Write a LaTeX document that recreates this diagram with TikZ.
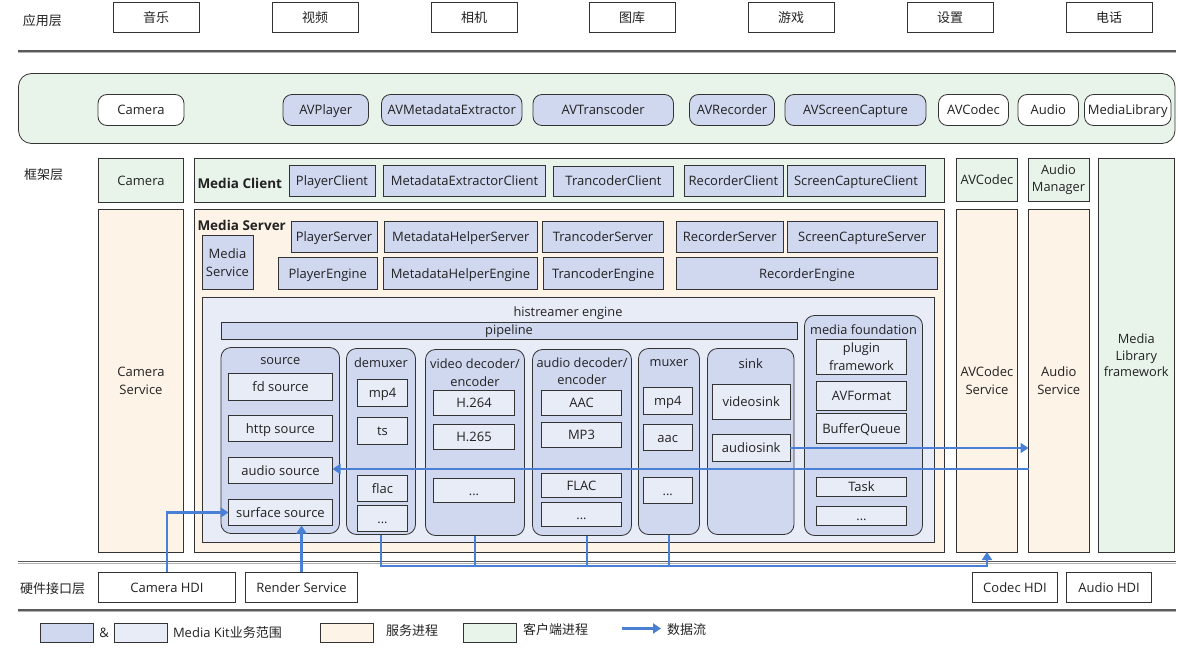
\documentclass[tikz,border=0pt]{standalone}
\usepackage{fontspec}
\setmainfont{Open Sans}
\newfontfamily\cjk{Noto Sans CJK SC}
\usetikzlibrary{arrows.meta}

\definecolor{mkdark}{HTML}{D0D8F0}
\definecolor{mklight}{HTML}{E8ECF7}
\definecolor{svc}{HTML}{FDF3E7}
\definecolor{cli}{HTML}{E8F3EA}
\definecolor{flowc}{HTML}{4A7FD6}
\definecolor{edge}{HTML}{333333}
\definecolor{sepc}{HTML}{5A5A5A}
\definecolor{txt}{HTML}{222222}

\newcommand\fn{\fontsize{13}{18.5}\selectfont}
\newcommand\fs{\fontsize{12.8}{18}\selectfont}
\newcommand\fc{\cjk\fontsize{13}{15}\selectfont}

% box from corner (x1,y1) to (x2,y2): name, x1, y1, x2, y2, style, text
\newcommand\bx[7]{\node[#6, minimum width={(#4)-(#2)}, minimum height={(#5)-(#3)}] (#1) at ({((#2)+(#4))/2},{((#3)+(#5))/2}) {#7};}

\tikzset{
  every node/.style={inner sep=0pt, outer sep=0pt, text=txt, font=\fn},
  tx/.style={text height=1.2em, text depth=0.22em},
  ml/.style={text height={}, text depth={}, align=center},
  plain/.style={draw=edge, line width=0.8pt, fill=white, tx},
  appbox/.style={draw=edge, line width=0.8pt, fill=white, font=\fc, text height=1.2em, text depth=0.1em},
  pill/.style={draw=edge, line width=0.8pt, rounded corners=9pt, fill=white, tx},
  mkpill/.style={pill, fill=mkdark},
  mk/.style={draw=edge, line width=0.8pt, fill=mkdark, tx},
  lt/.style={draw=edge, line width=0.8pt, fill=mklight, tx},
  sv/.style={draw=edge, line width=0.8pt, fill=svc, tx},
  cl/.style={draw=edge, line width=0.8pt, fill=cli, tx},
  cont/.style={draw=edge, line width=0.8pt, fill=mkdark, rounded corners=10pt},
  small/.style={font=\fontsize{12.8}{16.8}\selectfont, ml},
  rowlab/.style={font=\fc, anchor=west},
  flow/.style={draw=flowc, line width=2.4pt, -{Triangle[length=8pt,width=10pt]}},
  flowline/.style={draw=flowc, line width=2.4pt},
  sepdark/.style={draw=sepc, line width=1.6pt},
  seplight/.style={draw=black!30, line width=1pt},
}

\begin{document}
\begin{tikzpicture}[x=1pt, y=-1pt]
\useasboundingbox (0,0) rectangle (1178,669);

% ---------- row titles ----------
\node[rowlab] (lApp) at (23,20.5) {应用层};
\node[rowlab] (lIf) at (19,111.5) {接口层};
\node[rowlab] (lFw) at (24,175) {框架层};
\node[rowlab] (lHw) at (20,589) {硬件接口层};

% ---------- application layer ----------
\bx{a1}{113}{2}{199}{32}{appbox}{音乐}
\bx{a2}{272}{2}{358}{32}{appbox}{视频}
\bx{a3}{431}{2}{517}{32}{appbox}{相机}
\bx{a4}{589}{2}{675}{32}{appbox}{图库}
\bx{a5}{748}{2}{834}{32}{appbox}{游戏}
\bx{a6}{907}{2}{993}{32}{appbox}{设置}
\bx{a7}{1066}{2}{1152}{32}{appbox}{电话}

% layer separators
\draw[seplight] (18,52.5) -- (1176,52.5);
\draw[sepdark] (18,51) -- (1176,51);
\draw[seplight] (18,563) -- (1176,563);
\draw[sepdark] (18,561.5) -- (1176,561.5);
\draw[seplight] (18,611.5) -- (1176,611.5);
\draw[sepdark] (18,610) -- (1176,610);

% ---------- interface layer ----------
\draw[draw=edge, line width=0.8pt, fill=cli, rounded corners=13pt] (18.5,73.5) rectangle (1175,143.5);
\bx{iCam}{98}{94.5}{184}{125.5}{pill}{Camera}
\bx{iPlay}{283}{94.5}{368.5}{125.5}{mkpill}{AVPlayer}
\bx{iMeta}{381.5}{94.5}{522}{125.5}{mkpill}{AVMetadataExtractor}
\bx{iTrans}{533}{94.5}{673.5}{125.5}{mkpill}{AVTranscoder}
\bx{iRec}{689.5}{94.5}{774.5}{125.5}{mkpill}{AVRecorder}
\bx{iScr}{785}{94.5}{926}{125.5}{mkpill}{AVScreenCapture}
\bx{iCodec}{938.5}{94.5}{1008.5}{125.5}{pill}{AVCodec}
\bx{iAudio}{1018}{94.5}{1078.5}{125.5}{pill}{Audio}
\bx{iLib}{1084.5}{94.5}{1171}{125.5}{pill}{MediaLibrary}

% ---------- framework layer: client side ----------
\bx{fCam}{98.5}{158.5}{183.5}{202}{cl}{Camera}
\bx{mcli}{194.5}{158.5}{944}{202}{cl}{}
\node[anchor=west, font=\fontsize{13.5}{16}\selectfont\bfseries] (mcliT) at (197.5,183) {Media Client};
\bx{cPlay}{289}{165}{375}{196}{mk}{PlayerClient}
\bx{cMeta}{383.5}{165}{545.5}{196}{mk}{MetadataExtractorClient}
\bx{cTrans}{553.5}{166}{673.5}{196}{mk}{TrancoderClient}
\bx{cRec}{684}{165}{783}{196}{mk}{RecorderClient}
\bx{cScr}{787}{165}{925}{196}{mk}{ScreenCaptureClient}
\bx{fCodec}{956.5}{158.5}{1017.5}{201.5}{cl}{AVCodec}
\bx{fAMgr}{1028}{158.5}{1089}{201.5}{cl,small}{Audio\\Manager}

% ---------- framework layer: service side ----------
\bx{camSvc}{98.5}{209.5}{183.5}{552}{sv,ml}{Camera\\Service}
\bx{msrv}{194.5}{209.5}{944}{552}{sv}{}
\node[anchor=west, font=\fontsize{13.5}{16}\selectfont\bfseries] (msrvT) at (197.5,225) {Media Server};
\bx{mService}{202}{235.5}{253}{289.5}{mk,ml}{Media\\Service}
\bx{sPlay}{291}{221}{377}{252.5}{mk}{PlayerServer}
\bx{sMeta}{384}{221}{537.5}{252.5}{mk}{MetadataHelperServer}
\bx{sTrans}{542.5}{221}{663.5}{252.5}{mk}{TrancoderServer}
\bx{sRec}{676.5}{221}{783}{252.5}{mk}{RecorderServer}
\bx{sScr}{787}{221}{937.5}{252.5}{mk}{ScreenCaptureServer}
\bx{ePlay}{278.5}{257.5}{377}{289.5}{mk}{PlayerEngine}
\bx{eMeta}{383.5}{257.5}{537.5}{289.5}{mk}{MetadataHelperEngine}
\bx{eTrans}{543}{257.5}{663.5}{289.5}{mk}{TrancoderEngine}
\bx{eRec}{676.5}{257.5}{937.5}{289.5}{mk}{RecorderEngine}

\bx{avSvc}{956.5}{209.5}{1017.5}{552}{sv,ml}{AVCodec\\Service}
\bx{auSvc}{1028.5}{209.5}{1089}{552}{sv,ml}{Audio\\Service}
\bx{libFw}{1098.5}{158.5}{1174}{552}{cl,small}{Media\\Library\\framework}

% ---------- histreamer engine ----------
\bx{hist}{202.5}{297.5}{934.5}{542.5}{lt}{}
\node[font=\fs] (histT) at (568,313) {histreamer engine};
\bx{pipe}{221}{322.5}{797}{339.5}{mk,font=\fs,text height=0.95em,text depth=0.22em}{pipeline}

% source
\bx{src}{221}{347.5}{339.5}{533.5}{cont}{}
\node[font=\fs] (srcT) at (280.3,361.5) {source};
\bx{fdSrc}{228.5}{373.5}{332.5}{400.5}{lt}{fd source}
\bx{httpSrc}{228.5}{415.5}{332.5}{441.5}{lt}{http source}
\bx{audSrc}{228.5}{457.5}{332.5}{483.5}{lt}{audio source}
\bx{surfSrc}{228.5}{499.5}{332.5}{525.5}{lt}{surface source}

% demuxer
\bx{dmx}{346.5}{348.5}{415.5}{534.5}{cont}{}
\node[font=\fs] (dmxT) at (380.9,362.5) {demuxer};
\bx{dMp4}{357.5}{379.5}{407.5}{406.5}{lt}{mp4}
\bx{dTs}{357.5}{417.5}{407.5}{444.5}{lt}{ts}
\bx{dFlac}{357.5}{475.5}{407.5}{501}{lt}{flac}
\bx{dMore}{357.5}{505.5}{407.5}{531.5}{lt,font=\fs}{...}

% video decoder / encoder
\bx{vdec}{425.5}{349.5}{524.5}{535.5}{cont}{}
\node[font=\fs, align=center] (vdecT) at (475,372.5) {video decoder/\\encoder};
\bx{vH264}{433.5}{390.5}{514.5}{415.5}{lt}{H.264}
\bx{vH265}{433.5}{424.5}{514.5}{449.5}{lt}{H.265}
\bx{vMore}{433.5}{478.5}{514.5}{502.5}{lt,font=\fs}{...}

% audio decoder / encoder
\bx{adec}{532.5}{349.5}{631.5}{535.5}{cont}{}
\node[font=\fontsize{12.8}{16.8}\selectfont, align=center] (adecT) at (582,371.5) {audio decoder/\\encoder};
\bx{aAAC}{541.5}{390.5}{621.5}{415.5}{lt}{AAC}
\bx{aMP3}{541.5}{422.5}{621.5}{447.5}{lt}{MP3}
\bx{aFLAC}{541.5}{473.5}{621.5}{497.5}{lt}{FLAC}
\bx{aMore}{541.5}{502.5}{621.5}{526.5}{lt,font=\fs}{...}

% muxer
\bx{mux}{638.5}{348.5}{699.5}{534.5}{cont}{}
\node[font=\fs] (muxT) at (669,363) {muxer};
\bx{mMp4}{643.5}{387.5}{692}{414.5}{lt}{mp4}
\bx{mAac}{643.5}{424.5}{692}{450.5}{lt}{aac}
\bx{mMore}{643.5}{477.5}{692}{503.5}{lt,font=\fs}{...}

% sink
\bx{sink}{707.5}{348.5}{794}{534.5}{cont}{}
\node (sinkT) at (750.8,364) {sink};
\bx{vSink}{712.5}{384.5}{790}{419.5}{lt}{videosink}
\bx{aSink}{712.5}{434.5}{790}{461.5}{lt}{audiosink}

% media foundation
\bx{mf}{804.5}{315.5}{922.5}{535.5}{cont}{}
\node[font=\fs] (mfT) at (863.5,329.5) {media foundation};
\bx{mfPlug}{816.5}{339.5}{906.5}{374.5}{lt,ml,font=\fs}{plugin\\framework}
\bx{mfFmt}{816.5}{381}{906.5}{410}{lt}{AVFormat}
\bx{mfBq}{816.5}{413.5}{906.5}{443.5}{lt}{BufferQueue}
\bx{mfTask}{816.5}{477.5}{906.5}{496.5}{lt,text height=1.05em}{Task}
\bx{mfMore}{816.5}{506.5}{906.5}{525.5}{lt,font=\fs}{...}

% ---------- hardware interface layer ----------
\bx{camHdi}{98.5}{572}{235.5}{602.5}{plain}{Camera HDI}
\bx{rndSvc}{245.5}{572}{357.5}{602.5}{plain}{Render Service}
\bx{codecHdi}{972.5}{572}{1057.5}{602.5}{plain}{Codec HDI}
\bx{audioHdi}{1066.5}{572}{1151.5}{602.5}{plain}{Audio HDI}

% ---------- data flow ----------
\coordinate (busY) at (0,566);
\draw[flow] (aSink.east) -- (aSink.east -| auSvc.west);
\draw[flow] (auSvc.west |- 0,469) -- (audSrc.east |- 0,469);
\draw[flow] (camHdi.north) |- (surfSrc.west);
\draw[flow] (rndSvc.north) -- (rndSvc.north |- surfSrc.south);
\draw[flowline] (vdec.south) -- (vdec.south |- busY);
\draw[flowline] ([xshift=5pt]adec.south) -- ([xshift=5pt]adec.south |- busY);
\draw[flowline] (mux.south) -- (mux.south |- busY);
\draw[flow, line join=miter] (dmx.south) -- (dmx.south |- busY) -| (avSvc.south);

% ---------- legend ----------
\bx{lgDark}{40.5}{623.5}{93.5}{642.5}{mk}{}
\node (lgAmp) at (104,633) {\&};
\bx{lgLight}{114.5}{623.5}{167}{642.5}{lt}{}
\node[anchor=west] (lgMk) at (173,633) {Media Kit{\cjk 业务范围}};
\bx{lgSvc}{320.5}{623.5}{373}{642.5}{sv}{}
\node[anchor=west, font=\fc] (lgSvcT) at (386,630.5) {服务进程};
\bx{lgCli}{463.5}{623.5}{516}{642.5}{cl}{}
\node[anchor=west, font=\fc] (lgCliT) at (523,630) {客户端进程};
\coordinate (lgA) at (622,628.5);
\coordinate (lgB) at (661,628.5);
\draw[flow] (lgA) -- (lgB);
\node[anchor=west, font=\fc] (lgFlow) at (667,630) {数据流};
\end{tikzpicture}
\end{document}
